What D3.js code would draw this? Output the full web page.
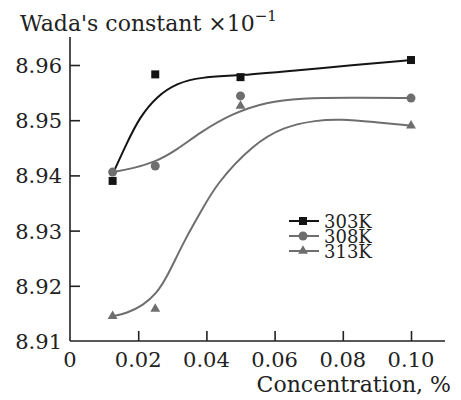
<!DOCTYPE html>
<html>
<head>
<meta charset="utf-8">
<script src="https://cdn.jsdelivr.net/npm/d3@7"></script>
<style>
  body { margin: 0; background: #fff; }
</style>
</head>
<body>
<svg id="chart" width="461" height="400"></svg>
<script>
// measured points
var conc = [0.0125, 0.025, 0.05, 0.10];
var k303 = [8.9390, 8.9583, 8.9578, 8.9609];
var k308 = [8.9406, 8.9417, 8.9544, 8.9540];
var k313 = [8.9145, 8.9158, 8.9526, 8.9490];

// fitted curves
var fit303 = [[0.0125, 8.9402], [0.0166, 8.9458], [0.0205, 8.9506], [0.0254, 8.9543], [0.0313, 8.9567],
              [0.0381, 8.9578], [0.0499, 8.9581], [0.0674, 8.9591], [0.0821, 8.9599], [0.10, 8.9609]];
var fit308 = [[0.0125, 8.9406], [0.0186, 8.9413], [0.0249, 8.9424], [0.0313, 8.9446], [0.0381, 8.9478],
              [0.0478, 8.9513], [0.0577, 8.9533], [0.0674, 8.9540], [0.0821, 8.9541], [0.10, 8.9540]];
var fit313 = [[0.0125, 8.9145], [0.0166, 8.9150], [0.0215, 8.9165], [0.0254, 8.9186], [0.0284, 8.9216],
              [0.0313, 8.9253], [0.0342, 8.9289], [0.0381, 8.9331], [0.0430, 8.9386], [0.0537, 8.9456],
              [0.0625, 8.9488], [0.0723, 8.9500], [0.0792, 8.9502], [0.0889, 8.9497], [0.10, 8.9490]];

var xTicks = [0, 0.02, 0.04, 0.06, 0.08, 0.10];
var yTicks = [8.91, 8.92, 8.93, 8.94, 8.95, 8.96];

var series = [
  { name: "303K", vals: k303, fit: fit303, color: "#141414", marker: "square" },
  { name: "308K", vals: k308, fit: fit308, color: "#6e6e6e", marker: "circle" },
  { name: "313K", vals: k313, fit: fit313, color: "#6e6e6e", marker: "triangle" }
];

var serif = "'DejaVu Serif', 'Liberation Serif', 'Times New Roman', serif";

var svg = d3.select("#chart").style("font-family", serif);
var x = d3.scaleLinear().domain([0, 0.10]).range([70, 411]);
var y = d3.scaleLinear().domain([8.91, 8.96]).range([341, 65]);

// axes
var xAxis = svg.append("g")
  .attr("transform", "translate(0," + y(8.91) + ")")
  .call(d3.axisTop(x).tickValues(xTicks).tickSize(10).tickFormat(""));
xAxis.select(".domain").attr("d", "M70,0H445");
xAxis.selectAll(".tick").filter(function(d) { return d === 0; }).remove();

var yAxis = svg.append("g")
  .attr("transform", "translate(" + x(0) + ",0)")
  .call(d3.axisRight(y).tickValues(yTicks).tickSize(10).tickFormat(""));
yAxis.select(".domain").attr("d", "M0,37V341");
yAxis.selectAll(".tick").filter(function(d) { return d === 8.91; }).remove();

svg.selectAll(".domain, .tick line").attr("stroke", "#222").attr("stroke-width", 1.6);

function label(sel, size) {
  return sel.style("font-family", serif).style("font-size", size + "px").attr("fill", "#222");
}

// tick labels
label(svg.append("g").selectAll("text").data(xTicks).enter().append("text")
  .attr("x", function(d) { return x(d); })
  .attr("y", 367)
  .attr("text-anchor", "middle"), 21)
  .text(function(d) { return d === 0 ? "0" : d.toFixed(2); });

label(svg.append("g").selectAll("text").data(yTicks).enter().append("text")
  .attr("x", 62)
  .attr("y", function(d) { return y(d) + 8; })
  .attr("text-anchor", "end"), 21)
  .text(function(d) { return d.toFixed(2); });

// titles
var yt = label(svg.append("text").attr("x", 20).attr("y", 31), 22);
yt.append("tspan").text("Wada's constant \u00d710");
yt.append("tspan").attr("dy", -10).style("font-size", "15px").text("\u22121");

label(svg.append("text").attr("x", 451).attr("y", 392).attr("text-anchor", "end"), 22)
  .text("Concentration, %");

// curves
var line = d3.line()
  .x(function(d) { return x(d[0]); })
  .y(function(d) { return y(d[1]); })
  .curve(d3.curveBasis);

function drawMarker(g, type, color) {
  if (type === "square") {
    g.append("rect").attr("x", -4).attr("y", -4).attr("width", 8).attr("height", 8).attr("fill", color);
  } else if (type === "circle") {
    g.append("circle").attr("r", 4.5).attr("fill", color);
  } else {
    g.append("path").attr("d", d3.symbol(d3.symbolTriangle, 42)()).attr("fill", color);
  }
}

series.forEach(function(s) {
  svg.append("path")
    .datum(s.fit)
    .attr("fill", "none")
    .attr("stroke", s.color)
    .attr("stroke-width", 2)
    .attr("d", line);

  s.vals.forEach(function(v, i) {
    var g = svg.append("g").attr("transform", "translate(" + x(conc[i]) + "," + y(v) + ")");
    drawMarker(g, s.marker, s.color);
  });
});

// legend
var legend = svg.append("g");
series.forEach(function(s, i) {
  var ly = 221 + i * 15;
  legend.append("line").attr("x1", 289).attr("x2", 319).attr("y1", ly).attr("y2", ly)
    .attr("stroke", s.color).attr("stroke-width", 2);
  var g = legend.append("g").attr("transform", "translate(303," + ly + ")");
  drawMarker(g, s.marker, s.color);
  label(legend.append("text").attr("x", 324).attr("y", ly + 7), 18).text(s.name);
});
</script>
</body>
</html>
